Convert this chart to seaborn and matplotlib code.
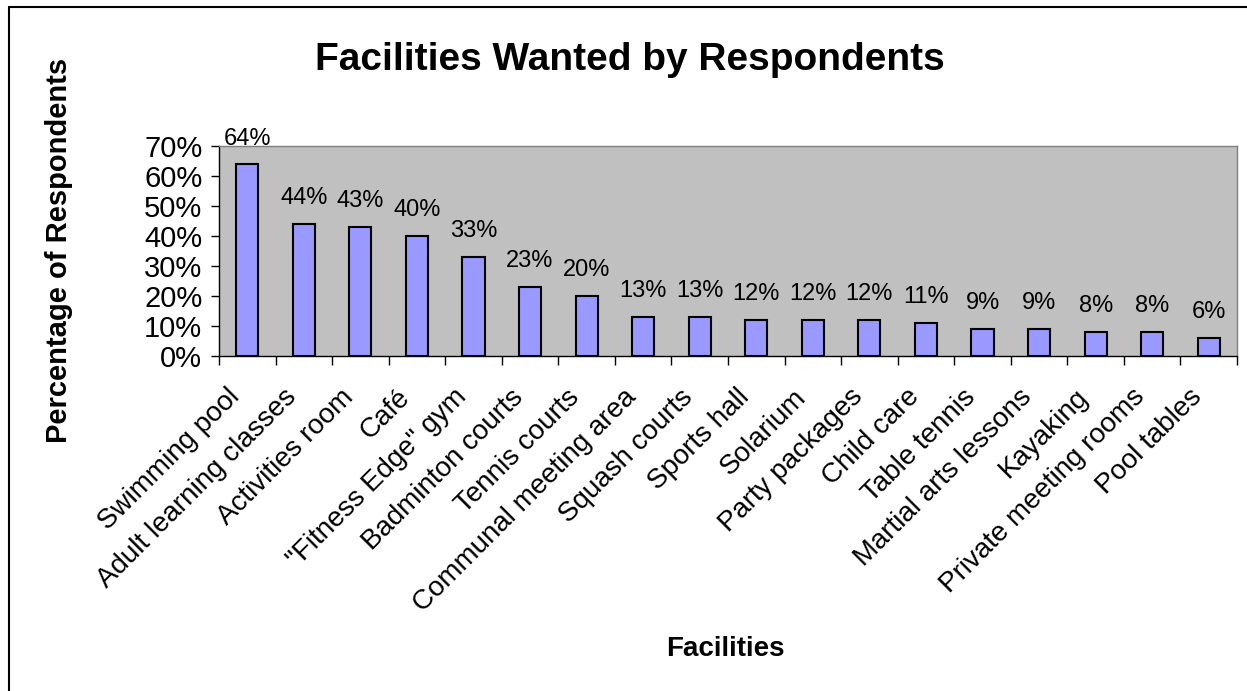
import seaborn as sns
import matplotlib.pyplot as plt
import matplotlib.transforms as mtransforms
from matplotlib.lines import Line2D
from matplotlib.ticker import MultipleLocator, FuncFormatter
import pandas as pd

# --- data ---
facilities = [
    "Swimming pool", "Adult learning classes", "Activities room", "Café",
    "\"Fitness Edge\" gym", "Badminton courts", "Tennis courts",
    "Communal meeting area", "Squash courts", "Sports hall", "Solarium",
    "Party packages", "Child care", "Table tennis", "Martial arts lessons",
    "Kayaking", "Private meeting rooms", "Pool tables",
]
percent_wanted = [64, 44, 43, 40, 33, 23, 20, 13, 13, 12, 12, 12, 11, 9, 9, 8, 8, 6]

df = pd.DataFrame({"Facility": facilities, "Percent": percent_wanted})

sns.set_style("white")
plt.rcParams["font.family"] = ["Liberation Sans", "DejaVu Sans"]
plt.rcParams["text.color"] = "black"
plt.rcParams["xtick.color"] = "black"
plt.rcParams["ytick.color"] = "black"
plt.rcParams["xtick.labelcolor"] = "black"
plt.rcParams["ytick.labelcolor"] = "black"

fig = plt.figure(figsize=(12.47, 6.91), dpi=100)
ax = fig.add_axes([0.1756, 0.4852, 0.8164, 0.3035])

sns.barplot(data=df, x="Facility", y="Percent", color="#9999FF",
            saturation=1, width=0.39, edgecolor="black", linewidth=1.5, ax=ax)

ax.set_facecolor("#C0C0C0")
for side in ["left", "bottom"]:
    ax.spines[side].set_color("black")
    ax.spines[side].set_linewidth(1)
for side in ["top", "right"]:
    ax.spines[side].set_color("#808080")
    ax.spines[side].set_linewidth(1)

ax.set_ylim(0, 70)
ax.set_xlim(-0.5, len(facilities) - 0.5)
ax.yaxis.set_major_locator(MultipleLocator(10))
ax.yaxis.set_major_formatter(FuncFormatter(lambda v, p: f"{v:.0f}%"))
ax.tick_params(axis="y", direction="out", length=6, width=1, labelsize=21, pad=6, left=True)

# category ticks sit on the slot boundaries, labels at the bar centres
ax.set_xticks(range(len(facilities)))
ax.set_xticklabels(facilities, rotation=45, ha="right", va="center",
                   rotation_mode="anchor", fontsize=20)
ax.tick_params(axis="x", length=0, pad=27)
shift = mtransforms.ScaledTranslation(-0.11, 0, fig.dpi_scale_trans)
for lbl in ax.get_xticklabels():
    lbl.set_transform(lbl.get_transform() + shift)
ax.set_xticks([i - 0.5 for i in range(len(facilities) + 1)], minor=True)
ax.tick_params(axis="x", which="minor", direction="out", length=6.5, width=1, bottom=True)

ax.set_xlabel("")
ax.set_ylabel("")

for i, v in enumerate(percent_wanted):
    ax.annotate(f"{v}%", (i, v), xytext=(0, 14), textcoords="offset points",
                ha="center", va="baseline", fontsize=17)

fig.text(0.505, 0.913, "Facilities Wanted by Respondents", ha="center", va="center",
         fontsize=28, fontweight="bold")
fig.text(0.047, 0.638, "Percentage of Respondents", ha="center", va="center",
         rotation=90, fontsize=21, fontweight="bold")
fig.text(0.582, 0.061, "Facilities", ha="center", va="center",
         fontsize=20, fontweight="bold")

# outer chart border (only left and top edges are visible in the crop)
fig.add_artist(Line2D([0.0072, 0.0072], [0, 0.99], transform=fig.transFigure, color="black", lw=1.5))
fig.add_artist(Line2D([0.0072, 1], [0.99, 0.99], transform=fig.transFigure, color="black", lw=1.5))

plt.savefig("out.png", dpi=100)
plt.close()
